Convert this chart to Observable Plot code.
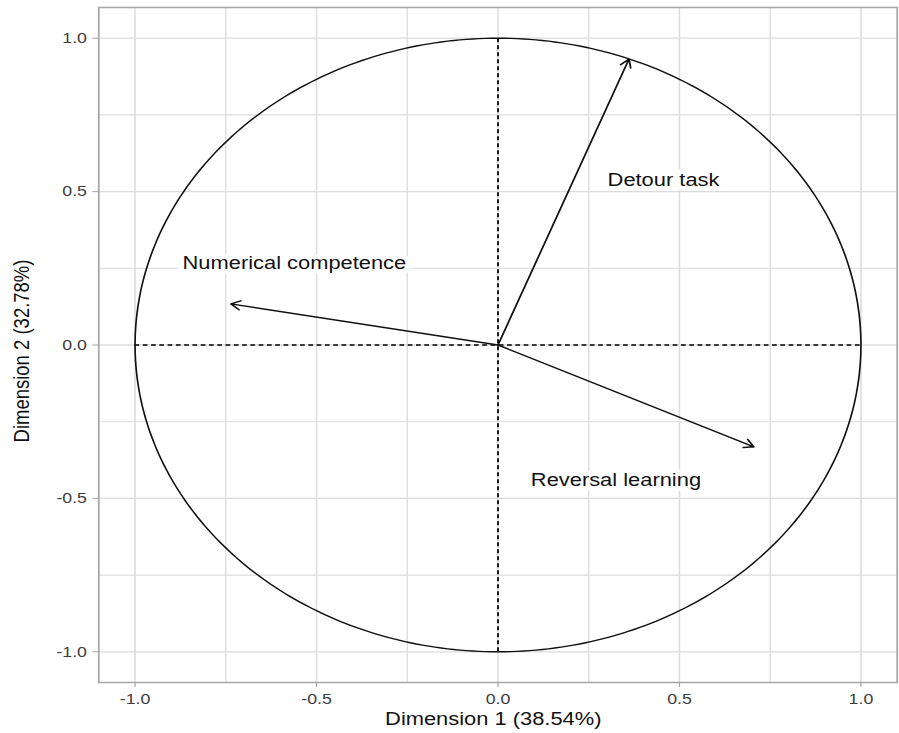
<!DOCTYPE html>
<html>
<head>
<meta charset="utf-8">
<script src="https://cdn.jsdelivr.net/npm/d3@7"></script>
<script src="https://cdn.jsdelivr.net/npm/@observablehq/plot@0.6"></script>
<style>
  html, body { margin: 0; padding: 0; background: #fff; }
  #chart { width: 899px; height: 733px; overflow: hidden; }
</style>
</head>
<body>
<div id="chart"></div>
<script>
// Variables (correlations with the dimensions)
const varNames = ["Detour task", "Numerical competence", "Reversal learning"];
const dim1 = [0.361, -0.736, 0.705];
const dim2 = [0.932, 0.134, -0.332];
// Label positions (data units)
const labelX = [0.456, -0.561, 0.325];
const labelY = [0.537, 0.267, -0.439];

const majorTicks = [-1, -0.5, 0, 0.5, 1];
const minorTicks = [-0.75, -0.25, 0.25, 0.75];
const xTitle = "Dimension 1 (38.54%)";
const yTitle = "Dimension 2 (32.78%)";

// unit reference circle (angles in degrees)
const angles = d3.range(0, 361, 1);
const circle = angles.map(a => ({x: Math.cos(a * Math.PI / 180), y: Math.sin(a * Math.PI / 180)}));

const vars = varNames.map((n, i) => ({name: n, x: dim1[i], y: dim2[i], lx: labelX[i], ly: labelY[i]}));

const W = 760, H = 733;
const font = "'Liberation Sans', Arial, sans-serif";
const gridColor = "#dcdcdc";

const svg = Plot.plot({
  width: W,
  height: H,
  marginLeft: 83,
  marginRight: 2,
  marginTop: 7,
  marginBottom: 51,
  style: {fontFamily: font, background: "white"},
  x: {domain: [-1.1, 1.1]},
  y: {domain: [-1.1, 1.1]},
  marks: [
    Plot.ruleX(minorTicks, {stroke: gridColor, strokeWidth: 1.1}),
    Plot.ruleY(minorTicks, {stroke: gridColor, strokeWidth: 1.1}),
    Plot.ruleX(majorTicks, {stroke: gridColor, strokeWidth: 1.3}),
    Plot.ruleY(majorTicks, {stroke: gridColor, strokeWidth: 1.3}),
    Plot.frame({stroke: "#a6a6a6", strokeWidth: 1.5}),
    Plot.axisX({ticks: majorTicks, tickFormat: d => d.toFixed(1), tickSize: 5, tickPadding: 6,
      stroke: "#a6a6a6", fill: "#3d3d3d", fontSize: 15, label: null}),
    Plot.axisY({ticks: majorTicks, tickFormat: d => d.toFixed(1), tickSize: 5, tickPadding: 5,
      stroke: "#a6a6a6", fill: "#3d3d3d", fontSize: 15, label: null}),
    Plot.ruleX([0], {y1: -1, y2: 1, stroke: "black", strokeWidth: 1.5, strokeDasharray: "4,3"}),
    Plot.ruleY([0], {x1: -1, x2: 1, stroke: "black", strokeWidth: 1.5, strokeDasharray: "4,3"}),
    Plot.line(circle, {x: "x", y: "y", stroke: "#111", strokeWidth: 1.4, curve: "linear"}),
    Plot.arrow(vars, {x1: d => 0, y1: d => 0, x2: "x", y2: "y", stroke: "#111", strokeWidth: 1.5,
      headLength: 9, headAngle: 60, inset: 0}),
    Plot.text(vars, {x: "lx", y: "ly", text: "name", fontSize: 18.5, fill: "#111",
      stroke: "white", strokeWidth: 10, strokeLinejoin: "round", lineAnchor: "middle", textAnchor: "middle"}),
    Plot.text([xTitle], {frameAnchor: "bottom", lineAnchor: "middle", textAnchor: "middle",
      dy: 37, dx: -4, fontSize: 18.5, fill: "#111"}),
    Plot.text([yTitle], {frameAnchor: "left", lineAnchor: "middle", textAnchor: "middle",
      rotate: -90, dx: -65, dy: 6, fontSize: 18.5, fill: "#111"})
  ]
});

// the reference image is horizontally stretched: scale the drawing to the 899px window width
svg.setAttribute("width", 899);
svg.setAttribute("height", 733);
svg.setAttribute("preserveAspectRatio", "none");
svg.style.maxWidth = "none";
document.getElementById("chart").appendChild(svg);
</script>
</body>
</html>
